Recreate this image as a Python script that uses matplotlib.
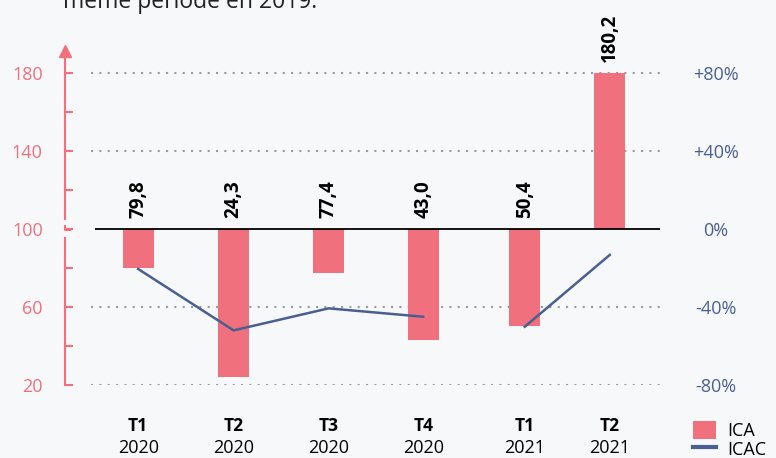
import matplotlib.pyplot as plt
from matplotlib.patches import Patch
from matplotlib.lines import Line2D

# ICA per quarter (base 100) and ICAC change (%)
quarters = ["T1", "T2", "T3", "T4", "T1", "T2"]
years = ["2020", "2020", "2020", "2020", "2021", "2021"]
ica = [79.8, 24.3, 77.4, 43.0, 50.4, 180.2]
ica_labels = ["79,8", "24,3", "77,4", "43,0", "50,4", "180,2"]
icac_2020 = [-20.5, -52.0, -40.7, -45.0]
icac_2021 = [-50.1, -13.3]

left_ticks = [20, 60, 100, 140, 180]
left_minor = [40, 80, 120, 160]
right_ticks = [-80, -40, 0, 40, 80]
right_labels = ["-80%", "-40%", "0%", "+40%", "+80%"]

pink = "#f0717d"
blue = "#4a5f91"
bg = "#f7f8fa"

# layout: slot positions of the quarters
xpos = [0, 1.005, 2.005, 3.0, 4.07, 4.965]

plt.rcParams["font.family"] = ["Open Sans", "DejaVu Sans"]

fig = plt.figure(figsize=(7.76, 4.58), dpi=100, facecolor=bg)
ax = fig.add_axes([65 / 776, 73 / 458, 598 / 776, 338 / 458])
ax.set_facecolor(bg)
ax.set_xlim(-0.77, 5.525)
ax.set_ylim(20, 193.3)
for s in ax.spines.values():
    s.set_visible(False)

# grid and zero line
ax.hlines([20, 60, 140, 180], -0.5, 5.51, colors="#9b9b9b", lw=1.5,
          linestyles=(0, (1, 3)), zorder=0)
ax.hlines(100, -0.45, 5.49, colors="black", lw=1.3, zorder=3)

# bars from base 100
ax.bar(xpos, [v - 100 for v in ica], bottom=100, width=0.326, color=pink, zorder=2)
for x, v, lbl in zip(xpos, ica, ica_labels):
    ax.text(x, max(v, 100) + 5.6, lbl, rotation=90, ha="center", va="bottom",
            fontsize=13.5, fontweight="bold", color="black", clip_on=False)

# left axis with break at 100 and arrow
yt = ax.get_yaxis_transform()
ax.plot([0, 0], [20, 95.4], transform=yt, color=pink, lw=1.5, clip_on=False)
ax.plot([0, 0], [105.2, 191], transform=yt, color=pink, lw=1.5, clip_on=False)
ax.plot([0], [191.5], transform=yt, marker="^", markersize=9, color=pink, clip_on=False)
ax.plot([0, 0, 0.009], [101.5, 99.7, 99.7], transform=yt, color=pink, lw=1.5,
        clip_on=False)

ax.set_yticks(left_ticks)
ax.set_yticks(left_minor, minor=True)
ax.tick_params(axis="y", which="both", direction="in", length=6, width=1.5,
               color=pink, labelcolor=pink, labelsize=13, pad=16)
ax.yaxis.get_major_ticks()[2].tick1line.set_visible(False)
ax.set_xticks([])

# right axis for ICAC
ax2 = ax.twinx()
ax2.set_ylim(-80, 93.3)
for s in ax2.spines.values():
    s.set_visible(False)
ax2.plot(xpos[:4], icac_2020, color=blue, lw=1.8, zorder=4)
ax2.plot(xpos[4:], icac_2021, color=blue, lw=1.8, zorder=4)
ax2.set_yticks(right_ticks, right_labels)
ax2.tick_params(axis="y", length=0, labelcolor=blue, labelsize=13, pad=38)
for t in ax2.get_yticklabels():
    t.set_ha("center")

# category labels
xt = ax.get_xaxis_transform()
for x, q, y in zip(xpos, quarters, years):
    ax.annotate(q, xy=(x, 0), xycoords=xt, xytext=(0, -41 * 0.72),
                textcoords="offset points", ha="center", va="center",
                fontsize=12.5, fontweight="bold", color="black", annotation_clip=False)
    ax.annotate(y, xy=(x, 0), xycoords=xt, xytext=(0, -63 * 0.72),
                textcoords="offset points", ha="center", va="center",
                fontsize=13, color="black", annotation_clip=False)

# legend
handles = [Patch(facecolor=pink, edgecolor="none"),
           Line2D([], [], color=blue, lw=3)]
fig.legend(handles, ["ICA", "ICAC"], loc="upper left",
           bbox_to_anchor=(680 / 776, 1 - 408 / 458), frameon=False,
           fontsize=13, handlelength=1.3, handleheight=1.15,
           handletextpad=0.6, labelspacing=0.0, borderpad=0.2)

# tail of the text above the chart
fig.text(63 / 776, 1 - 8 / 458, "même période en 2019.", fontsize=16.5,
         color="#222222", va="baseline", ha="left")

fig.savefig("out.png", dpi=100, facecolor=bg)
